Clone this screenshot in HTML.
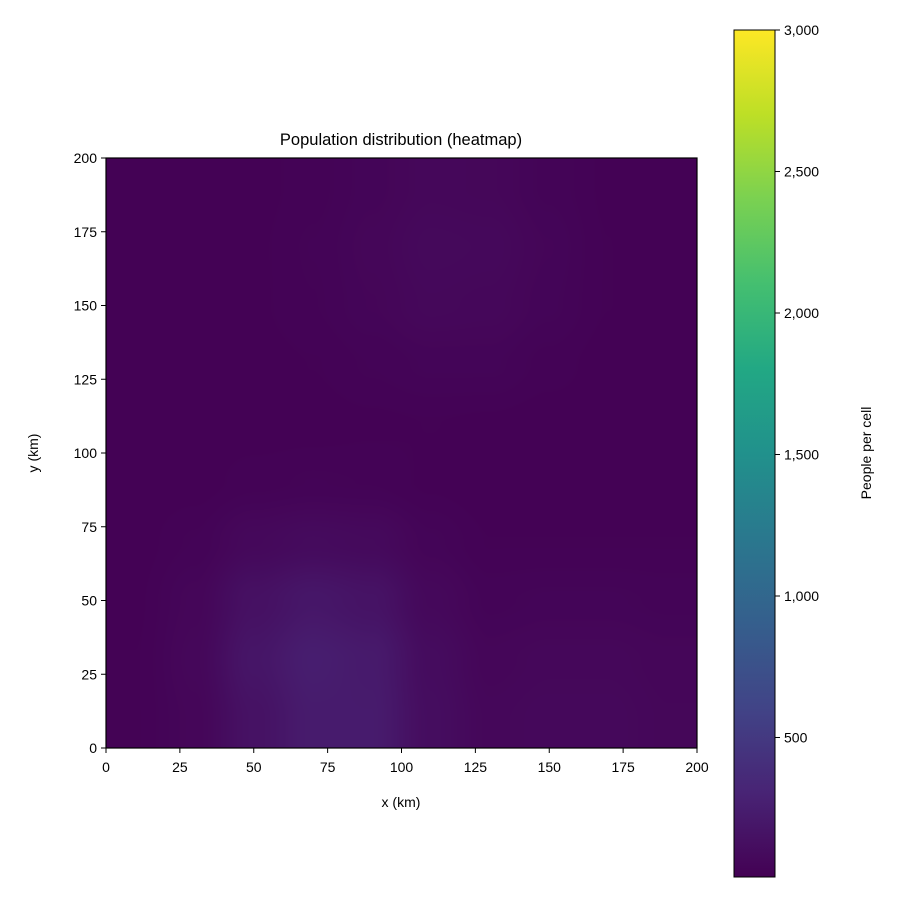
<!DOCTYPE html>
<html><head><meta charset="utf-8"><style>
body{margin:0;background:#fff;}
#wrap{position:relative;width:900px;height:900px;}
#chart{position:absolute;left:0;top:0;}
#heat{position:absolute;left:106px;top:158px;width:591px;height:590px;}
svg text{font-family:"Liberation Sans",sans-serif;fill:#000;}
</style></head><body>
<div id="wrap">
<svg id="chart" width="900" height="900" viewBox="0 0 900 900">
<defs>
<linearGradient id="vgrad" x1="0" y1="1" x2="0" y2="0"></linearGradient>
</defs>
<rect x="106" y="158" width="591" height="590" fill="#440154"/>
<g id="cells"></g>
<g id="xaxis"></g>
<g id="yaxis"></g>
<text x="401" y="145" font-size="16.5" text-anchor="middle">Population distribution (heatmap)</text>
<text x="401" y="807" font-size="14" text-anchor="middle">x (km)</text>
<text transform="translate(38,453) rotate(-90)" font-size="14" text-anchor="middle">y (km)</text>
<rect x="734" y="30" width="41" height="847" fill="url(#vgrad)" stroke="#000" stroke-width="1"/>
<g id="cbaxis"></g>
<text transform="translate(871,453) rotate(-90)" font-size="14" text-anchor="middle">People per cell</text>
</svg>
<canvas id="heat" width="591" height="590"></canvas>
<svg width="900" height="900" style="position:absolute;left:0;top:0;pointer-events:none">
<rect x="106" y="158" width="591" height="590" fill="none" stroke="#000" stroke-width="1.2"/>
</svg>
</div>
<script>
// grid cell centers (km) and values (people per cell); rows bottom (y=10) to top (y=190)
const xCenters = [10,30,50,70,90,110,130,150,170,190];
const yCenters = [10,30,50,70,90,110,130,150,170,190];
const values = [
 [20,50,150,230,230,110,60,70,70,55],
 [20,60,180,250,220,100,50,60,60,50],
 [18,50,140,190,160,70,35,40,40,35],
 [15,30,70,90,80,40,20,20,20,20],
 [12,15,25,30,28,18,12,12,12,12],
 [12,12,14,15,18,20,18,14,12,12],
 [12,12,15,20,30,40,40,25,15,12],
 [12,12,18,28,45,65,60,40,20,12],
 [12,12,18,30,50,75,70,45,20,12],
 [12,12,16,25,42,60,55,35,18,12]
];
const axisTicks = [0,25,50,75,100,125,150,175,200];
const cbTicks = [500,1000,1500,2000,2500,3000];
const cbTickLabels = ["500","1,000","1,500","2,000","2,500","3,000"];
const vmin = 7, vmax = 3000;

const NS="http://www.w3.org/2000/svg";
const VIR=["#440154","#482475","#414487","#355f8d","#2a788e","#21918c","#22a884","#44bf70","#7ad151","#bddf26","#fde725"];
function hex(h){return [1,3,5].map(i=>parseInt(h.substr(i,2),16));}
function virRGB(t){t=Math.max(0,Math.min(1,t));const p=t*(VIR.length-1);const i=Math.min(Math.floor(p),VIR.length-2);const f=p-i;const a=hex(VIR[i]),b=hex(VIR[i+1]);return a.map((v,k)=>Math.round(v+(b[k]-v)*f));}
function viridis(t){return "rgb("+virRGB(t).join(",")+")";}
const X=v=>106+v/200*591, Y=v=>748-v/200*590;
const cbY=v=>877-(v-vmin)/(vmax-vmin)*847;
const cellW=20/200*591, cellH=20/200*590;
// cell marks (SVG, under the smoothed canvas)
const cells=document.getElementById('cells');
values.forEach((row,r)=>row.forEach((v,c)=>{
 const el=document.createElementNS(NS,'rect');
 el.setAttribute('x',X(xCenters[c])-cellW/2);
 el.setAttribute('y',Y(yCenters[r])-cellH/2);
 el.setAttribute('width',cellW);el.setAttribute('height',cellH);
 el.setAttribute('fill',viridis((v-vmin)/(vmax-vmin)));
 
 
 cells.appendChild(el);
}));
// smoothed rendering of the same grid
(function(){
 const cv=document.getElementById('heat'),ctx=cv.getContext('2d');
 const W=cv.width,H=cv.height,img=ctx.createImageData(W,H);
 const nx=xCenters.length, ny=yCenters.length;
 function idx(arr,v){let i=0;while(i<arr.length-2&&v>arr[i+1])i++;let f=(v-arr[i])/(arr[i+1]-arr[i]);f=Math.max(0,Math.min(1,f));f=f*f*(3-2*f);return [i,f];}
 for(let py=0;py<H;py++){
  const ky=200-(py+0.5)/H*200;const [j,fy]=idx(yCenters,ky);
  for(let px=0;px<W;px++){
   const kx=(px+0.5)/W*200;const [i,fx]=idx(xCenters,kx);
   const v=(values[j][i]*(1-fx)+values[j][i+1]*fx)*(1-fy)+(values[j+1][i]*(1-fx)+values[j+1][i+1]*fx)*fy;
   const c=virRGB((v-vmin)/(vmax-vmin));const o=(py*W+px)*4;
   img.data[o]=c[0];img.data[o+1]=c[1];img.data[o+2]=c[2];img.data[o+3]=255;
  }
 }
 ctx.putImageData(img,0,0);
})();
const g=document.getElementById('vgrad');
VIR.forEach((c,i)=>{const s=document.createElementNS(NS,'stop');s.setAttribute('offset',(i/(VIR.length-1)));s.setAttribute('stop-color',c);g.appendChild(s);});
function line(p,x1,y1,x2,y2){const l=document.createElementNS(NS,'line');l.setAttribute('x1',x1);l.setAttribute('y1',y1);l.setAttribute('x2',x2);l.setAttribute('y2',y2);l.setAttribute('stroke','#000');l.setAttribute('stroke-width','1');p.appendChild(l);return l;}
function text(p,x,y,s,anchor){const t=document.createElementNS(NS,'text');t.setAttribute('x',x);t.setAttribute('y',y);t.setAttribute('font-size','14');t.setAttribute('text-anchor',anchor);t.textContent=s;p.appendChild(t);return t;}
const xa=document.getElementById('xaxis'), ya=document.getElementById('yaxis'), ca=document.getElementById('cbaxis');
axisTicks.forEach(v=>{
 const l1=line(xa,X(v),748,X(v),753);
 
 
 const t1=text(xa,X(v),772,String(v),'middle');
 
 
 const l2=line(ya,101,Y(v),106,Y(v));
 
 
 const t2=text(ya,97,Y(v)+5,String(v),'end');
 
 
});
cbTicks.forEach((v,i)=>{
 const l=line(ca,775,cbY(v),780,cbY(v));
 
 
 const t=text(ca,784,cbY(v)+5,cbTickLabels[i],'start');
 
 
});
</script>
</body></html>
